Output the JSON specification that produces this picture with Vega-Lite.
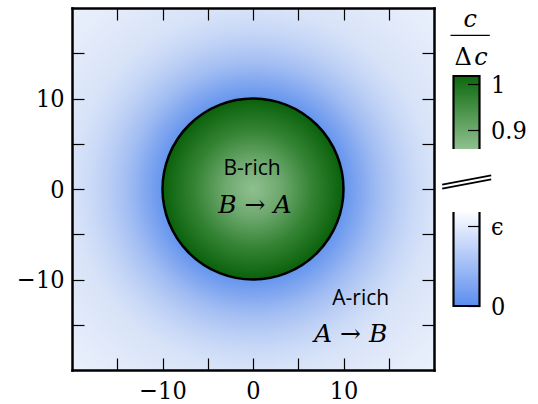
{
  "$schema": "https://vega.github.io/schema/vega-lite/v6.json",
  "background": "white",
  "padding": {"left": 16, "top": 7, "right": 0, "bottom": 0},
  "bounds": "flush",
  "spacing": 17.5,
  "config": {
    "view": {"stroke": null},
    "axis": {"labelFont": "DejaVu Serif Condensed", "labelFontSize": 25, "labelColor": "black", "tickColor": "black", "tickWidth": 1.2, "domain": false, "grid": false, "labelOverlap": false, "labelFlush": false, "labelBound": false, "minExtent": 0, "zindex": 1, "title": null}
  },
  "hconcat": [
    {
      "width": 362,
      "height": 362,
      "resolve": {"axis": {"x": "independent", "y": "independent"}},
      "layer": [
        {
          "data": {"values": [{"x0": -20, "x1": 20, "y0": -20, "y1": 20}]},
          "mark": {"type": "rect", "fill": {"gradient": "radial", "x1": 0.5, "y1": 0.5, "r1": 0, "x2": 0.5, "y2": 0.5, "r2": 0.72, "stops": [
            {"offset": 0, "color": "#6495ed"},
            {"offset": 0.347, "color": "#6495ed"},
            {"offset": 0.417, "color": "#85a9f0"},
            {"offset": 0.486, "color": "#a3bef3"},
            {"offset": 0.556, "color": "#bacef5"},
            {"offset": 0.625, "color": "#cbdaf7"},
            {"offset": 0.694, "color": "#d8e3f8"},
            {"offset": 0.85, "color": "#e3ebfa"},
            {"offset": 1, "color": "#ebf1fc"}
          ]}},
          "encoding": {
            "x": {"field": "x0", "type": "quantitative", "scale": {"domain": [-20, 20], "nice": false, "zero": false},
              "axis": {"orient": "bottom", "zindex": 2, "values": [-15, -10, -5, 0, 5, 10, 15], "labelExpr": "datum.value % 10 === 0 ? datum.label : ''", "tickSize": -12, "labelPadding": 20, "domain": true, "domainColor": "black", "domainWidth": 2.5, "domainCap": "square", "title": null}},
            "x2": {"field": "x1"},
            "y": {"field": "y0", "type": "quantitative", "scale": {"domain": [-20, 20], "nice": false, "zero": false},
              "axis": {"orient": "left", "zindex": 2, "values": [-15, -10, -5, 0, 5, 10, 15], "labelExpr": "datum.value % 10 === 0 ? datum.label : ''", "tickSize": -12, "labelPadding": 20, "domain": true, "domainColor": "black", "domainWidth": 2.5, "domainCap": "square", "title": null}},
            "y2": {"field": "y1"}
          }
        },
        {
          "data": {"values": [{"cx": 0, "cy": 0}]},
          "mark": {"type": "point", "shape": "circle", "filled": true, "size": 32761, "opacity": 1, "fillOpacity": 1, "stroke": "black", "strokeWidth": 2.5, "fill": {"gradient": "radial", "x1": 0.5, "y1": 0.5, "r1": 0, "x2": 0.5, "y2": 0.5, "r2": 0.5, "stops": [
            {"offset": 0, "color": "#8fbf8f"},
            {"offset": 0.3, "color": "#6fa96f"},
            {"offset": 0.65, "color": "#348334"},
            {"offset": 1, "color": "#0a610a"}
          ]}},
          "encoding": {
            "x": {"field": "cx", "type": "quantitative", "axis": {"orient": "top", "zindex": 2, "values": [-15, -10, -5, 0, 5, 10, 15], "labels": false, "tickSize": -12, "domain": true, "domainColor": "black", "domainWidth": 2.5, "domainCap": "square", "title": null, "maxExtent": 0}},
            "y": {"field": "cy", "type": "quantitative", "axis": {"orient": "right", "zindex": 2, "values": [-15, -10, -5, 0, 5, 10, 15], "labels": false, "tickSize": -12, "domain": true, "domainColor": "black", "domainWidth": 2.5, "domainCap": "square", "title": null, "maxExtent": 0}}
          }
        },
        {
          "data": {"values": [{"x": -0.1, "y": 1.6, "t": "B-rich"}, {"x": 11.9, "y": -12.8, "t": "A-rich"}]},
          "mark": {"type": "text", "font": "Open Sans", "fontSize": 21, "align": "center", "baseline": "alphabetic", "color": "black"},
          "encoding": {
            "x": {"field": "x", "type": "quantitative", "axis": null},
            "y": {"field": "y", "type": "quantitative", "axis": null},
            "text": {"field": "t"}
          }
        },
        {
          "data": {"values": [{"x": 0.2, "y": -2.65, "t": "B \u2192 A"}, {"x": 10.8, "y": -16.9, "t": "A \u2192 B"}]},
          "mark": {"type": "text", "font": "DejaVu Serif", "fontStyle": "italic", "fontSize": 25, "align": "center", "baseline": "alphabetic", "color": "black"},
          "encoding": {
            "x": {"field": "x", "type": "quantitative", "axis": null},
            "y": {"field": "y", "type": "quantitative", "axis": null},
            "text": {"field": "t"}
          }
        }
      ]
    },
    {
      "bounds": "flush",
      "spacing": 0,
      "vconcat": [
        {
          "width": 30,
          "height": 66,
          "layer": [
            {
              "data": {"values": [{"x": 0.646, "y": 47, "t": "c"}, {"x": 1.058, "y": 9, "t": "c"}]},
              "mark": {"type": "text", "font": "DejaVu Serif", "fontStyle": "italic", "fontSize": 24, "align": "center", "baseline": "alphabetic", "color": "black"},
              "encoding": {
                "x": {"field": "x", "type": "quantitative", "scale": {"domain": [-0.076923, 1.076923], "nice": false, "zero": false}, "axis": null},
                "y": {"field": "y", "type": "quantitative", "scale": {"domain": [0, 66], "nice": false, "zero": false}, "axis": null},
                "text": {"field": "t"}
              }
            },
            {
              "data": {"values": [{"x": 0.37, "y": 9, "t": "\u0394"}]},
              "mark": {"type": "text", "font": "DejaVu Serif", "fontSize": 24, "align": "center", "baseline": "alphabetic", "color": "black"},
              "encoding": {
                "x": {"field": "x", "type": "quantitative", "axis": null},
                "y": {"field": "y", "type": "quantitative", "axis": null},
                "text": {"field": "t"}
              }
            },
            {
              "data": {"values": [{"x": -0.115, "x2": 1.396, "y": 38.7}]},
              "mark": {"type": "rule", "stroke": "black", "strokeWidth": 1.2},
              "encoding": {
                "x": {"field": "x", "type": "quantitative", "axis": null},
                "x2": {"field": "x2"},
                "y": {"field": "y", "type": "quantitative", "axis": null}
              }
            }
          ]
        },
        {
          "width": 30,
          "height": 75,
          "data": {"values": [{"x0": 0, "x1": 1, "y0": 0.8, "y1": 1.018}]},
          "mark": {"type": "rect", "clip": true, "stroke": "black", "strokeWidth": 2.2, "fill": {"gradient": "linear", "x1": 0, "y1": 0, "x2": 0, "y2": 1, "stops": [
            {"offset": 0, "color": "#0b690b"},
            {"offset": 0.728, "color": "#8fc08f"},
            {"offset": 1, "color": "#a5cfa5"}
          ]}},
          "encoding": {
            "x": {"field": "x0", "type": "quantitative", "scale": {"domain": [-0.076923, 1.076923], "nice": false, "zero": false}, "axis": null},
            "x2": {"field": "x1"},
            "y": {"field": "y0", "type": "quantitative", "scale": {"domain": [0.85935, 1.02239], "nice": false, "zero": false},
              "axis": {"orient": "right", "zindex": 2, "labelFont": "DejaVu Serif Condensed", "labelFontSize": 25, "values": [0.9, 1], "format": ".1~f", "tickSize": -12, "offset": -2, "labelPadding": 23, "labelAlign": "left", "labelBaseline": "middle", "title": null}},
            "y2": {"field": "y1"}
          }
        },
        {
          "width": 30,
          "height": 63,
          "data": {"values": [{"x": -0.435, "x2": 1.45, "y": 27.3, "y2": 36.7}, {"x": -0.435, "x2": 1.45, "y": 23.3, "y2": 32.7}]},
          "mark": {"type": "rule", "stroke": "black", "strokeWidth": 1.8},
          "encoding": {
            "x": {"field": "x", "type": "quantitative", "scale": {"domain": [-0.076923, 1.076923], "nice": false, "zero": false}, "axis": null},
            "x2": {"field": "x2"},
            "y": {"field": "y", "type": "quantitative", "scale": {"domain": [0, 63], "nice": false, "zero": false}, "axis": null},
            "y2": {"field": "y2"}
          }
        },
        {
          "width": 30,
          "height": 96,
          "data": {"values": [{"x0": 0, "x1": 1, "y0": 0, "y1": 1.5}]},
          "mark": {"type": "rect", "clip": true, "stroke": "black", "strokeWidth": 2.2, "fill": {"gradient": "linear", "x1": 0, "y1": 0, "x2": 0, "y2": 1, "stops": [
            {"offset": 0, "color": "#ffffff"},
            {"offset": 0.217, "color": "#fdfdff"},
            {"offset": 1, "color": "#5b8def"}
          ]}},
          "encoding": {
            "x": {"field": "x0", "type": "quantitative", "scale": {"domain": [-0.076923, 1.076923], "nice": false, "zero": false}, "axis": null},
            "x2": {"field": "x1"},
            "y": {"field": "y0", "type": "quantitative", "scale": {"domain": [-0.025, 1.175], "nice": false, "zero": false},
              "axis": {"orient": "right", "zindex": 2, "labelFont": "DejaVu Serif Condensed", "labelFontSize": 25, "values": [0, 1], "labelExpr": "datum.value === 1 ? '\u03f5' : '0'", "tickSize": -12, "offset": -2, "labelPadding": 23, "labelAlign": "left", "labelBaseline": "middle", "title": null}},
            "y2": {"field": "y1"}
          }
        }
      ]
    }
  ]
}
